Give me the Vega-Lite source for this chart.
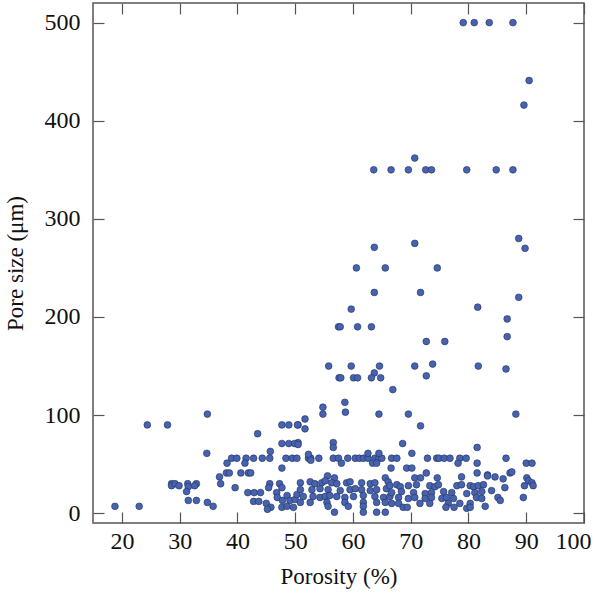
{
  "$schema": "https://vega.github.io/schema/vega-lite/v6.json",
  "width": 491,
  "height": 520,
  "autosize": "none",
  "padding": {"left": 93, "top": 3, "right": 16, "bottom": 72},
  "background": "white",
  "config": {
    "view": {"stroke": "#555555", "strokeWidth": 1.5},
    "font": "Liberation Serif",
    "axis": {"grid": false, "domain": false, "tickColor": "#555555", "tickWidth": 1.2, "labelFont": "Liberation Serif", "titleFont": "Liberation Serif", "labelFontSize": 24, "titleFontSize": 23, "labelColor": "#111111", "titleColor": "#111111", "titleFontWeight": "normal", "labelFlush": false, "labelOverlap": false}
  },
  "data": {"values": [
    {"p":79.1,"s":500},{"p":81,"s":500},{"p":83.6,"s":500},{"p":87.7,"s":500},
    {"p":90.5,"s":441},{"p":89.6,"s":416},{"p":70.7,"s":362},
    {"p":63.6,"s":350},{"p":66.6,"s":350},{"p":69.6,"s":350},{"p":72.6,"s":350},{"p":73.6,"s":350},{"p":79.7,"s":350},{"p":84.8,"s":350},{"p":87.7,"s":350},
    {"p":88.7,"s":280},{"p":89.8,"s":270},{"p":63.7,"s":271},{"p":70.7,"s":275},
    {"p":60.6,"s":250},{"p":65.6,"s":250},{"p":74.6,"s":250},
    {"p":63.7,"s":225},{"p":71.7,"s":225},{"p":88.7,"s":220},
    {"p":59.7,"s":208},{"p":81.6,"s":210},{"p":86.7,"s":198},
    {"p":57.5,"s":190},{"p":57.8,"s":190},{"p":60.8,"s":190},{"p":63.2,"s":190},
    {"p":86.7,"s":180},{"p":72.7,"s":175},{"p":75.9,"s":175},
    {"p":55.8,"s":150},{"p":59.7,"s":150},{"p":64.6,"s":150},{"p":70.7,"s":150},{"p":73.8,"s":152},{"p":81.7,"s":150},{"p":86.5,"s":147},
    {"p":63.7,"s":143},{"p":57.6,"s":138},{"p":57.9,"s":138},{"p":60.1,"s":138},{"p":60.8,"s":138},{"p":63.2,"s":138},{"p":64.8,"s":138},{"p":72.7,"s":140},
    {"p":66.9,"s":126},{"p":58.6,"s":113},{"p":58.7,"s":103},{"p":54.8,"s":108},{"p":54.8,"s":101},{"p":64.5,"s":101},
    {"p":51.7,"s":96},{"p":50.5,"s":90},{"p":51.7,"s":86},{"p":56.6,"s":72},{"p":56.6,"s":67},{"p":50.5,"s":72},
    {"p":69.6,"s":101},{"p":71.7,"s":89},{"p":68.6,"s":71},{"p":81.5,"s":67},{"p":70.2,"s":61},{"p":88.2,"s":101},
    {"p":24.4,"s":90},{"p":27.9,"s":90},{"p":18.8,"s":7},{"p":23,"s":7},
    {"p":28.6,"s":30},{"p":28.6,"s":28},{"p":29.2,"s":30},{"p":29.9,"s":28},{"p":31.4,"s":30},{"p":31.5,"s":27},{"p":32.9,"s":30},{"p":32.6,"s":28},{"p":31.2,"s":22},{"p":31.5,"s":13},{"p":32.9,"s":13},
    {"p":34.8,"s":101},{"p":34.7,"s":61},{"p":34.8,"s":11},{"p":35.8,"s":7},{"p":43.5,"s":81},
    {"p":47.7,"s":90},{"p":48.9,"s":90},{"p":50.4,"s":90},
    {"p":47.7,"s":71},{"p":48.9,"s":71},{"p":49.9,"s":71},{"p":50.5,"s":70},
    {"p":45.7,"s":63},
    {"p":39.0,"s":56},{"p":39.9,"s":56},{"p":41.5,"s":56},{"p":42.8,"s":56},{"p":44.3,"s":56},{"p":45.6,"s":56},{"p":48.4,"s":56},{"p":49.5,"s":56},{"p":50.3,"s":56},
    {"p":38.2,"s":51},{"p":41.3,"s":51},{"p":47.7,"s":46},{"p":36.9,"s":37},
    {"p":38.1,"s":41},{"p":38.6,"s":41},{"p":40.6,"s":41},{"p":41.9,"s":41},{"p":42.3,"s":41},
    {"p":37.1,"s":30},{"p":39.6,"s":26},{"p":45.6,"s":30},{"p":47.3,"s":30},{"p":47.7,"s":26},{"p":45.4,"s":26},
    {"p":41.8,"s":21},{"p":42.9,"s":21},{"p":44.0,"s":21},{"p":46.8,"s":21},
    {"p":42.8,"s":12},{"p":43.7,"s":12},{"p":45.0,"s":10},{"p":45.8,"s":6},{"p":45.2,"s":4},
    {"p":46.9,"s":16},{"p":47.8,"s":13},{"p":48.6,"s":18},{"p":49.1,"s":13},{"p":50.0,"s":14},{"p":50.3,"s":19},{"p":50.9,"s":11},
    {"p":47.7,"s":6},{"p":48.6,"s":7},{"p":49.7,"s":6},
    {"p":52.3,"s":56},{"p":52.7,"s":56},{"p":54.1,"s":56},{"p":56.6,"s":56},{"p":57.5,"s":56},{"p":59.1,"s":56},{"p":60.4,"s":56},{"p":61.1,"s":56},{"p":61.8,"s":56},{"p":62.6,"s":56},{"p":63.8,"s":56},{"p":64.5,"s":56},{"p":65.0,"s":56},{"p":66.7,"s":56},
    {"p":52.3,"s":60},{"p":52.7,"s":54},{"p":58.0,"s":51},{"p":63.4,"s":51},{"p":64.1,"s":51},{"p":62.6,"s":61},{"p":64.5,"s":61},
    {"p":65.6,"s":36},{"p":55.6,"s":38},{"p":56.8,"s":36},
    {"p":50.9,"s":31},{"p":52.6,"s":32},{"p":53.4,"s":30},{"p":54.6,"s":31},{"p":55.2,"s":33},{"p":56.3,"s":31},{"p":57.2,"s":30},{"p":58.9,"s":31},{"p":59.5,"s":32},{"p":61.5,"s":31},{"p":63.0,"s":30},{"p":63.8,"s":31},{"p":66.1,"s":32},
    {"p":50.9,"s":24},{"p":52.9,"s":24},{"p":54.3,"s":25},{"p":55.7,"s":24},{"p":57.8,"s":23},{"p":59.5,"s":24},{"p":60.4,"s":25},{"p":61.5,"s":24},{"p":63.0,"s":23},{"p":64.1,"s":24},{"p":65.8,"s":25},
    {"p":51.4,"s":17},{"p":53.1,"s":17},{"p":54.3,"s":16},{"p":55.2,"s":17},{"p":56.0,"s":18},{"p":57.2,"s":17},{"p":58.6,"s":16},{"p":60.1,"s":17},{"p":61.8,"s":18},{"p":63.8,"s":17},{"p":65.3,"s":16},{"p":66.4,"s":17},
    {"p":52.6,"s":11},{"p":55.5,"s":11},{"p":58.6,"s":11},{"p":61.8,"s":11},{"p":64.1,"s":11},{"p":65.6,"s":11},
    {"p":55.7,"s":7},{"p":59.2,"s":7},{"p":61.8,"s":7},
    {"p":56.8,"s":1},{"p":61.8,"s":1},{"p":64.1,"s":1},{"p":65.6,"s":1},
    {"p":67.6,"s":56},{"p":72.9,"s":56},{"p":74.5,"s":56},{"p":74.9,"s":56},{"p":75.8,"s":56},{"p":76.8,"s":56},{"p":78.5,"s":56},{"p":79.6,"s":56},
    {"p":78.2,"s":51},{"p":81.5,"s":51},{"p":69.3,"s":46},{"p":70.2,"s":46},{"p":66.6,"s":46},{"p":72.7,"s":41},{"p":81.5,"s":41},{"p":83.3,"s":39},
    {"p":70.7,"s":36},{"p":71.7,"s":36},{"p":74.6,"s":36},{"p":78.8,"s":37},
    {"p":66.4,"s":28},{"p":67.6,"s":29},{"p":68.2,"s":27},{"p":69.6,"s":28},{"p":71.0,"s":29},{"p":73.3,"s":28},{"p":74.2,"s":27},{"p":74.8,"s":29},{"p":78.0,"s":28},{"p":78.8,"s":29},{"p":80.3,"s":28},{"p":80.9,"s":27},{"p":81.7,"s":28},{"p":82.6,"s":29},
    {"p":66.7,"s":21},{"p":68.4,"s":22},{"p":70.5,"s":21},{"p":72.5,"s":20},{"p":73.6,"s":21},{"p":75.7,"s":22},{"p":77.1,"s":21},{"p":79.7,"s":20},{"p":81.1,"s":21},{"p":82.3,"s":22},
    {"p":67.9,"s":16},{"p":69.6,"s":15},{"p":70.7,"s":16},{"p":72.5,"s":15},{"p":73.6,"s":16},{"p":75.4,"s":15},{"p":76.2,"s":16},{"p":77.4,"s":15},{"p":81.4,"s":16},{"p":82.3,"s":15},
    {"p":66.7,"s":10},{"p":67.9,"s":10},{"p":71.6,"s":10},{"p":73.3,"s":10},{"p":76.5,"s":10},{"p":78.5,"s":10},{"p":80.3,"s":10},
    {"p":68.7,"s":6},{"p":69.4,"s":6},{"p":76.1,"s":6},{"p":77.5,"s":6},{"p":79.7,"s":5},{"p":80.3,"s":6},
    {"p":86.5,"s":56},{"p":90.0,"s":51},{"p":91.0,"s":51},{"p":87.2,"s":41},{"p":87.5,"s":42},{"p":83.3,"s":38},{"p":84.6,"s":37},{"p":86.0,"s":35},
    {"p":90.1,"s":36},{"p":90.4,"s":33},{"p":91.0,"s":31},{"p":91.2,"s":28},{"p":89.7,"s":28},{"p":86.3,"s":26},{"p":84.0,"s":23},{"p":85.1,"s":16},{"p":85.5,"s":13},{"p":89.5,"s":16},{"p":82.9,"s":7}
  ]},
  "layer": [
    {
      "mark": {"type": "point", "filled": true, "shape": "circle", "size": 46, "color": "#4563b0", "stroke": "#26305a", "strokeWidth": 0.6, "opacity": 1},
      "encoding": {
        "x": {"field": "p", "type": "quantitative", "scale": {"domain": [15, 100], "nice": false, "zero": false},
              "axis": {"title": "Porosity (%)", "values": [20,30,40,50,60,70,80,90,100], "tickSize": -11, "labelPadding": 17, "titlePadding": 12, "labelOffset": {"expr": "datum.value == 100 ? -11 : 0"}}},
        "y": {"field": "s", "type": "quantitative", "scale": {"domain": [-10, 520], "nice": false, "zero": false},
              "axis": {"title": "Pore size (μm)", "values": [0,100,200,300,400,500], "tickSize": -11, "labelPadding": 24, "titlePadding": 17}}
      }
    },
    {
      "mark": {"type": "point", "opacity": 0},
      "encoding": {
        "x": {"field": "p", "type": "quantitative", "axis": {"orient": "top", "labels": false, "title": null, "values": [20,30,40,50,60,70,80,90,100], "tickSize": -11}},
        "y": {"field": "s", "type": "quantitative", "axis": {"orient": "right", "labels": false, "title": null, "values": [0,100,200,300,400,500], "tickSize": -11}}
      }
    }
  ],
  "resolve": {"axis": {"x": "independent", "y": "independent"}}
}
